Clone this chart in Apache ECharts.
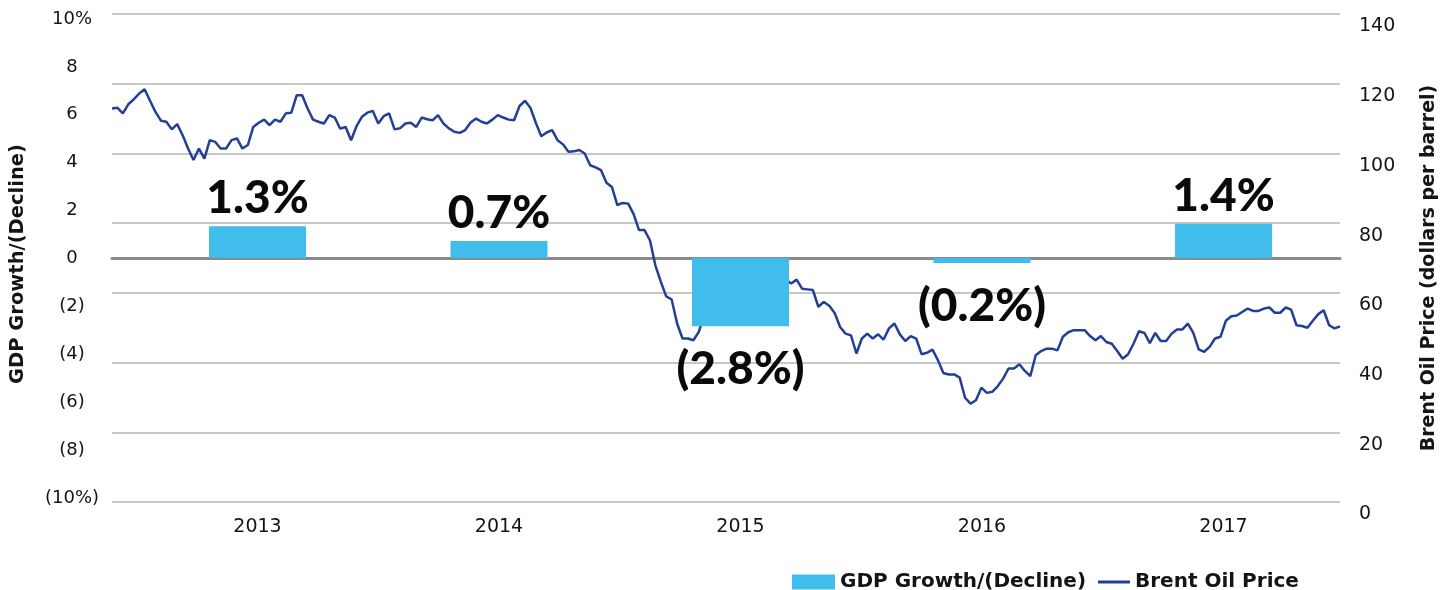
<!DOCTYPE html>
<html><head><meta charset="utf-8">
<script src="https://cdn.jsdelivr.net/npm/echarts@6/dist/echarts.min.js"></script>
<style>html,body{margin:0;padding:0;background:#fff}#c{width:1447px;height:590px}</style>
</head><body><div id="c"></div>
<script>
// ---- data ----
const years = ['2013', '2014', '2015', '2016', '2017'];
const gdpGrowth = [1.3, 0.7, -2.8, -0.2, 1.4];
const gdpTickValues = [-10, -8, -6, -4, -2, 0, 2, 4, 6, 8, 10];
const gdpTickLabels = ['(10%)', '(8)', '(6)', '(4)', '(2)', '0', '2', '4', '6', '8', '10%'];
const priceTicks = [0, 20, 40, 60, 80, 100, 120, 140];
const brentStartDate = '2013-01-08'; // weekly observations
const brentWeekly = [
  112.9, 113.1, 111.5, 114.1, 115.5, 117.2, 118.4, 115.1, 111.9, 109.4,
  109.1, 106.9, 108.4, 105.2, 101.4, 98.1, 101.4, 98.5, 103.8, 103.3,
  101.4, 101.4, 103.8, 104.3, 101.4, 102.4, 107.6, 108.8, 109.7, 108.1,
  109.7, 109.1, 111.5, 111.7, 116.7, 116.7, 112.9, 109.7, 109.1, 108.6,
  111.0, 110.3, 107.1, 107.6, 103.8, 107.8, 110.5, 111.7, 112.2, 108.6,
  110.7, 111.5, 106.9, 107.2, 108.6, 108.8, 107.6, 110.3, 109.8, 109.5,
  111.0, 108.6, 107.2, 106.2, 105.9, 106.7, 108.9, 110.0, 109.1, 108.6,
  109.7, 111.0, 110.3, 109.7, 109.5, 113.6, 115.1, 113.1, 108.8, 104.9,
  106.0, 106.7, 103.8,
  102.6, 100.5, 100.6, 101.0, 100.0, 96.6, 96.0, 95.2, 91.6, 90.4,
  85.2, 85.8, 85.6, 82.6, 78.0, 78.0, 75.1, 67.9, 63.2, 59.0,
  58.1, 51.2, 46.9, 46.9, 46.4, 48.8,
  54.0, 57.0, 58.5, 60.0, 59.0, 60.5, 58.0, 56.0, 55.0, 56.5, 55.5, 58.0, 60.5, 62.5, 64.0,
  63.8, 62.7, 63.8, 61.2, 61.0, 60.8, 56.0, 57.4, 56.3, 54.2,
  50.2, 48.3, 47.8, 42.6, 46.9, 48.3, 46.9, 48.1, 46.6, 49.8,
  51.2, 48.1, 46.2, 47.6,
  46.9, 42.4, 42.8, 43.7, 40.7, 37.0, 36.6, 36.6, 35.7, 29.9,
  28.2, 29.2, 32.8, 31.3, 31.6, 33.2, 35.4, 38.3, 38.3, 39.5,
  37.6, 36.1, 42.1, 43.3, 44.0, 44.0, 43.5, 47.4, 48.7, 49.3,
  49.3, 49.3, 47.6, 46.4, 47.6, 45.9, 45.4, 43.3,
  41.1, 42.4, 45.4, 49.0, 48.5, 45.6, 48.5, 46.2, 46.2, 48.3,
  49.5, 49.5, 51.2, 48.5, 43.8, 43.1, 44.5, 46.9, 47.4, 52.0,
  53.3, 53.5, 54.5, 55.5, 54.8, 54.8, 55.5, 55.8, 54.3, 54.3,
  55.8, 55.2, 50.7, 50.5, 50.0, 52.0, 53.9, 55.0, 50.7, 49.8,
  50.4
];
const gdpName = 'GDP Growth/(Decline)';
const brentName = 'Brent Oil Price';
const priceAxisName = 'Brent Oil Price (dollars per barrel)';

// ---- build ----
const DAY = 86400000;
const t0 = Date.parse(brentStartDate + 'T00:00:00Z');
const brentData = brentWeekly.map((v, i) => [t0 + i * 7 * DAY, v]);
const tEnd = brentData[brentData.length - 1][0];

const fmtPct = v => v < 0 ? '(' + Math.abs(v).toFixed(1) + '%)' : v.toFixed(1) + '%';
const barData = gdpGrowth.map(v => ({
  value: v,
  label: { position: v < 0 ? 'bottom' : 'top', distance: v < 0 ? 20 : 5 }
}));
const gdpLabelFor = v => gdpTickLabels[gdpTickValues.indexOf(Math.round(v))];

const TXT = '#141414';
const SANS = 'DejaVu Sans';
const gridTop = 14, gridBottom = 88;

const chart = echarts.init(document.getElementById('c'), null, { renderer: 'canvas' });
chart.setOption({
  animation: false,
  backgroundColor: '#ffffff',
  grid: [
    { left: 112, right: 100, top: gridTop, bottom: gridBottom },
    { left: 136.75, right: 102.75, top: gridTop, bottom: gridBottom }
  ],
  xAxis: [
    {
      type: 'time', gridIndex: 0, min: t0, max: tEnd,
      axisLabel: { show: false }, axisTick: { show: false }, splitLine: { show: false },
      axisLine: { show: true, onZero: true, onZeroAxisIndex: 0, lineStyle: { color: '#8a8a8a', width: 3 } }
    },
    {
      type: 'category', gridIndex: 1, data: years, boundaryGap: true,
      axisLine: { show: false, onZero: false }, axisTick: { show: false }, splitLine: { show: false },
      axisLabel: { margin: 16, color: TXT, fontSize: 19, fontFamily: SANS }
    }
  ],
  yAxis: [
    {
      // exact GDP scale of the plot (zero line reference)
      type: 'value', gridIndex: 0, position: 'left', min: -10, max: 10, interval: 2,
      axisLine: { show: false }, axisTick: { show: false }, splitLine: { show: false },
      axisLabel: { show: false },
      name: gdpName, nameLocation: 'middle', nameGap: 84, nameRotate: 90,
      nameTextStyle: { color: TXT, fontSize: 19.5, fontWeight: 'bold', fontFamily: SANS, padding: [0, 12, 0, 0] }
    },
    {
      type: 'value', gridIndex: 0, position: 'right', min: priceTicks[0], max: priceTicks[priceTicks.length - 1], interval: 20,
      axisLine: { show: false }, axisTick: { show: false },
      splitLine: { show: true, lineStyle: { color: '#b4b4b4', width: 1.5 } },
      axisLabel: { margin: 19, color: TXT, fontSize: 19, fontFamily: SANS, verticalAlign: 'top', padding: [3, 0, 0, 0] },
      name: priceAxisName, nameLocation: 'middle', nameGap: 80, nameRotate: 90,
      nameTextStyle: { color: TXT, fontSize: 19, fontWeight: 'bold', fontFamily: SANS, padding: [0, 20, 0, 0] }
    },
    {
      type: 'value', gridIndex: 1, min: -10, max: 10, interval: 2, show: false
    },
    {
      // GDP tick labels as placed in the source (slightly inset at the extremes)
      type: 'value', gridIndex: 0, position: 'left', min: -10.167, max: 10.209,
      axisLine: { show: false }, axisTick: { show: false }, splitLine: { show: false },
      axisLabel: {
        customValues: gdpTickValues,
        margin: 40, align: 'center', color: TXT, fontSize: 18, fontFamily: SANS,
        formatter: v => gdpLabelFor(v)
      }
    }
  ],
  legend: [
    {
      data: [{ name: gdpName, icon: 'rect' }], left: 792, top: 572, padding: 0,
      itemWidth: 43, itemHeight: 15, selectedMode: false,
      textStyle: { color: TXT, fontSize: 20, fontWeight: 'bold', fontFamily: SANS, lineHeight: 20 }
    },
    {
      data: [{ name: brentName, icon: 'rect' }], left: 1098, top: 572, padding: 0,
      itemWidth: 32, itemHeight: 3, selectedMode: false,
      textStyle: { color: TXT, fontSize: 20, fontWeight: 'bold', fontFamily: SANS, lineHeight: 20 }
    }
  ],
  series: [
    {
      name: brentName, type: 'line', xAxisIndex: 0, yAxisIndex: 1, data: brentData,
      symbol: 'none', z: 2,
      itemStyle: { color: '#233f96' },
      lineStyle: { color: '#233f96', width: 2.5 }
    },
    {
      name: gdpName, type: 'bar', xAxisIndex: 1, yAxisIndex: 2, data: barData,
      barWidth: 97, z: 3,
      itemStyle: { color: '#40bdea' },
      label: {
        show: true, color: '#0a0a0a', fontSize: 46, fontWeight: 900, fontFamily: 'Lato',
        formatter: p => fmtPct(p.value)
      }
    }
  ]
});
</script></body></html>
